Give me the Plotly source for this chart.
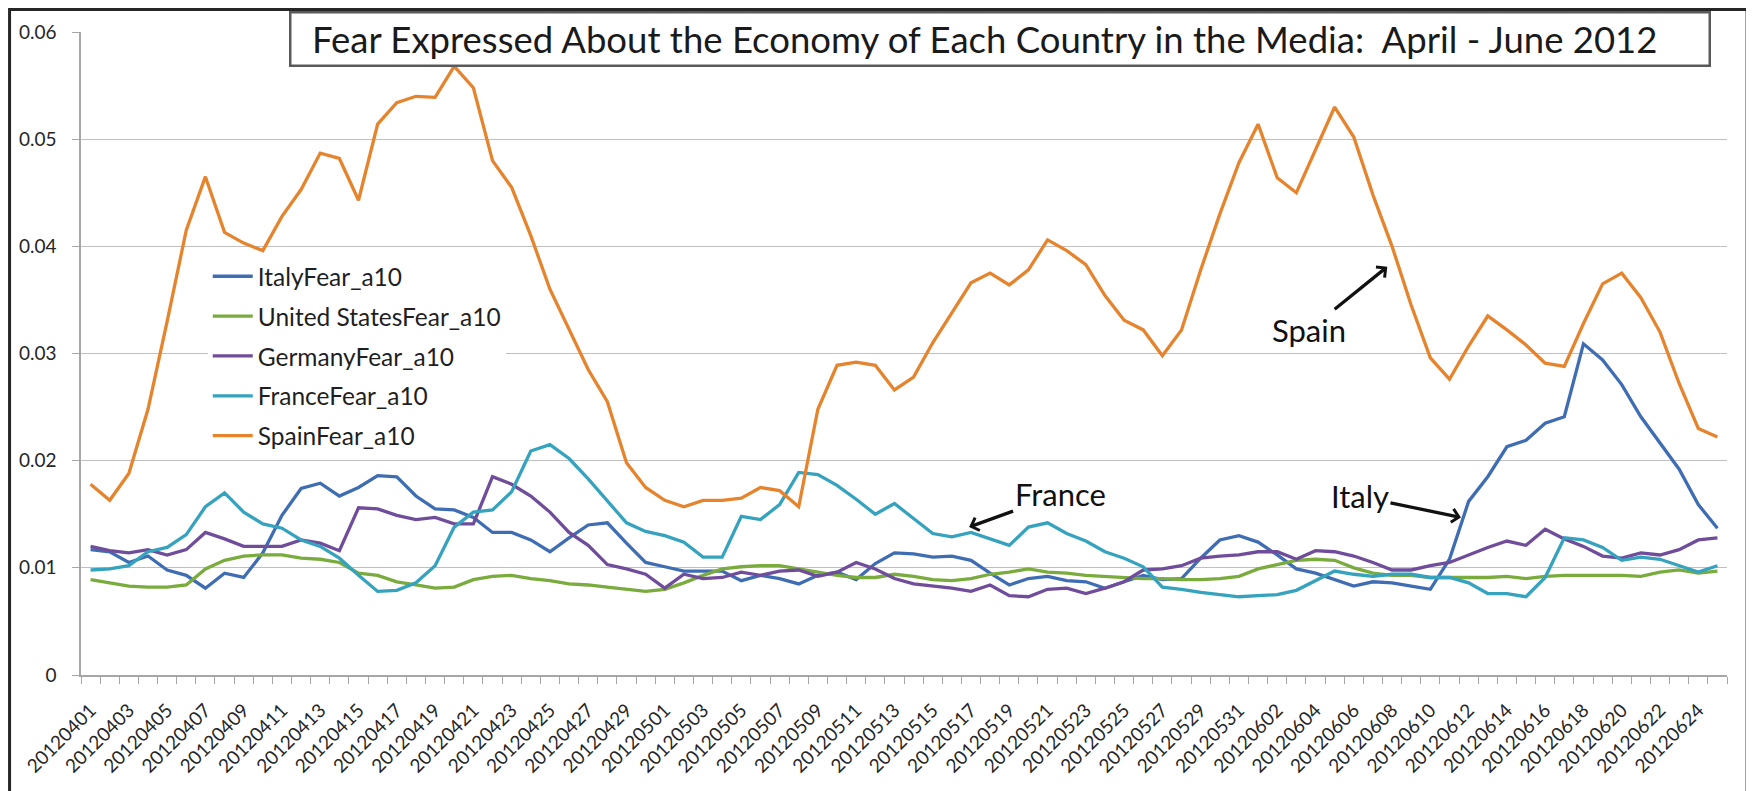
import plotly.graph_objects as go

dates = [
    "20120401", "20120402", "20120403", "20120404", "20120405", "20120406", "20120407", "20120408", "20120409", "20120410",
    "20120411", "20120412", "20120413", "20120414", "20120415", "20120416", "20120417", "20120418", "20120419", "20120420",
    "20120421", "20120422", "20120423", "20120424", "20120425", "20120426", "20120427", "20120428", "20120429", "20120430",
    "20120501", "20120502", "20120503", "20120504", "20120505", "20120506", "20120507", "20120508", "20120509", "20120510",
    "20120511", "20120512", "20120513", "20120514", "20120515", "20120516", "20120517", "20120518", "20120519", "20120520",
    "20120521", "20120522", "20120523", "20120524", "20120525", "20120526", "20120527", "20120528", "20120529", "20120530",
    "20120531", "20120601", "20120602", "20120603", "20120604", "20120605", "20120606", "20120607", "20120608", "20120609",
    "20120610", "20120611", "20120612", "20120613", "20120614", "20120615", "20120616", "20120617", "20120618", "20120619",
    "20120620", "20120621", "20120622", "20120623", "20120624", "20120625",
]

italy = [
    0.0117, 0.0115, 0.0105, 0.0111, 0.0098, 0.0093, 0.0081, 0.0095, 0.0091, 0.0114,
    0.0149, 0.0174, 0.0179, 0.0167, 0.0175, 0.0186, 0.0185, 0.0167, 0.0155, 0.0154,
    0.0147, 0.0133, 0.0133, 0.0126, 0.0115, 0.0128, 0.0140, 0.0142, 0.0123, 0.0105,
    0.0101, 0.0097, 0.0097, 0.0097, 0.0088, 0.0093, 0.0090, 0.0085, 0.0093, 0.0096,
    0.0089, 0.0104, 0.0114, 0.0113, 0.0110, 0.0111, 0.0107, 0.0095, 0.0084, 0.0090,
    0.0092, 0.0088, 0.0087, 0.0081, 0.0087, 0.0093, 0.0089, 0.0090, 0.0109, 0.0126,
    0.0130, 0.0124, 0.0112, 0.0099, 0.0095, 0.0089, 0.0083, 0.0087, 0.0086, 0.0083,
    0.0080, 0.0108, 0.0162, 0.0185, 0.0213, 0.0219, 0.0235, 0.0241, 0.0309, 0.0294,
    0.0271, 0.0241, 0.0216, 0.0192, 0.0159, 0.0137,
]

united_states = [
    0.0089, 0.0086, 0.0083, 0.0082, 0.0082, 0.0084, 0.0099, 0.0107, 0.0111, 0.0112,
    0.0112, 0.0109, 0.0108, 0.0105, 0.0095, 0.0093, 0.0087, 0.0084, 0.0081, 0.0082,
    0.0089, 0.0092, 0.0093, 0.0090, 0.0088, 0.0085, 0.0084, 0.0082, 0.0080, 0.0078,
    0.0080, 0.0086, 0.0093, 0.0099, 0.0101, 0.0102, 0.0102, 0.0099, 0.0096, 0.0093,
    0.0091, 0.0091, 0.0094, 0.0092, 0.0089, 0.0088, 0.0090, 0.0094, 0.0096, 0.0099,
    0.0096, 0.0095, 0.0093, 0.0092, 0.0091, 0.0090, 0.0090, 0.0089, 0.0089, 0.0090,
    0.0092, 0.0099, 0.0103, 0.0107, 0.0108, 0.0107, 0.0100, 0.0095, 0.0093, 0.0093,
    0.0091, 0.0091, 0.0091, 0.0091, 0.0092, 0.0090, 0.0092, 0.0093, 0.0093, 0.0093,
    0.0093, 0.0092, 0.0096, 0.0098, 0.0095, 0.0097,
]

germany = [
    0.0120, 0.0116, 0.0114, 0.0117, 0.0112, 0.0117, 0.0133, 0.0127, 0.0120, 0.0120,
    0.0120, 0.0126, 0.0123, 0.0116, 0.0156, 0.0155, 0.0149, 0.0145, 0.0147, 0.0141,
    0.0141, 0.0185, 0.0178, 0.0167, 0.0152, 0.0133, 0.0121, 0.0103, 0.0099, 0.0094,
    0.0081, 0.0094, 0.0090, 0.0091, 0.0096, 0.0093, 0.0097, 0.0098, 0.0092, 0.0096,
    0.0105, 0.0099, 0.0090, 0.0085, 0.0083, 0.0081, 0.0078, 0.0084, 0.0074, 0.0073,
    0.0080, 0.0081, 0.0076, 0.0081, 0.0087, 0.0098, 0.0099, 0.0102, 0.0109, 0.0111,
    0.0112, 0.0115, 0.0115, 0.0108, 0.0116, 0.0115, 0.0111, 0.0105, 0.0098, 0.0098,
    0.0102, 0.0105, 0.0112, 0.0119, 0.0125, 0.0121, 0.0136, 0.0127, 0.0120, 0.0111,
    0.0109, 0.0114, 0.0112, 0.0117, 0.0126, 0.0128,
]

france = [
    0.0098, 0.0099, 0.0102, 0.0115, 0.0119, 0.0131, 0.0157, 0.0170, 0.0152, 0.0141,
    0.0137, 0.0126, 0.0120, 0.0109, 0.0093, 0.0078, 0.0079, 0.0086, 0.0102, 0.0138,
    0.0152, 0.0154, 0.0171, 0.0209, 0.0215, 0.0202, 0.0183, 0.0163, 0.0142, 0.0134,
    0.0130, 0.0124, 0.0110, 0.0110, 0.0148, 0.0145, 0.0159, 0.0189, 0.0187, 0.0177,
    0.0164, 0.0150, 0.0160, 0.0146, 0.0132, 0.0129, 0.0133, 0.0127, 0.0121, 0.0138,
    0.0142, 0.0132, 0.0125, 0.0115, 0.0109, 0.0101, 0.0082, 0.0080, 0.0077, 0.0075,
    0.0073, 0.0074, 0.0075, 0.0079, 0.0088, 0.0097, 0.0094, 0.0092, 0.0094, 0.0094,
    0.0091, 0.0091, 0.0086, 0.0076, 0.0076, 0.0073, 0.0091, 0.0128, 0.0126, 0.0119,
    0.0107, 0.0110, 0.0108, 0.0102, 0.0096, 0.0102,
]

spain = [
    0.0178, 0.0163, 0.0188, 0.0248, 0.0330, 0.0415, 0.0465, 0.0413, 0.0403, 0.0396,
    0.0428, 0.0453, 0.0487, 0.0482, 0.0443, 0.0514, 0.0534, 0.0540, 0.0539, 0.0568,
    0.0548, 0.0480, 0.0455, 0.0410, 0.0360, 0.0322, 0.0285, 0.0255, 0.0198, 0.0175,
    0.0163, 0.0157, 0.0163, 0.0163, 0.0165, 0.0175, 0.0172, 0.0157, 0.0248, 0.0289,
    0.0292, 0.0289, 0.0266, 0.0278, 0.0310, 0.0338, 0.0366, 0.0375, 0.0364, 0.0378,
    0.0406, 0.0396, 0.0383, 0.0354, 0.0331, 0.0322, 0.0298, 0.0322, 0.0378, 0.0430,
    0.0478, 0.0514, 0.0464, 0.0450, 0.0490, 0.0530, 0.0502, 0.0448, 0.0400, 0.0345,
    0.0296, 0.0276, 0.0307, 0.0335, 0.0322, 0.0308, 0.0291, 0.0288, 0.0328, 0.0365,
    0.0375, 0.0352, 0.0320, 0.0272, 0.0230, 0.0222,
]

series = [
    ("ItalyFear_a10", italy, "#3F6DB3"),
    ("United StatesFear_a10", united_states, "#7AAB3D"),
    ("GermanyFear_a10", germany, "#6F4D9B"),
    ("FranceFear_a10", france, "#35A2BE"),
    ("SpainFear_a10", spain, "#E6842E"),
]

title_text = "Fear Expressed About the Economy of Each Country in the Media:  April - June 2012"
FONT = "Lato"

x_idx = list(range(len(dates)))

fig = go.Figure()
for name, vals, color in series:
    fig.add_trace(go.Scatter(x=x_idx, y=vals, mode="lines", name=name,
                             legendgroup=name,
                             line=dict(color=color, width=3.3)))

# page body has an 8px margin, so the figure is a bit smaller than the window
fig.update_layout(
    width=1746, height=783,
    margin=dict(l=73, r=27, t=24, b=116, autoexpand=False),
    paper_bgcolor="white", plot_bgcolor="white",
    font=dict(family=FONT, color="#262626"),
    showlegend=True,
    legend=dict(x=0.077, y=0.655, xanchor="left", yanchor="top",
                bgcolor="white", font=dict(size=24.5, color="#1f1f1f"),
                tracegroupgap=5, itemwidth=40),
)

fig.update_xaxes(
    range=[-0.5, len(dates) - 0.5],
    tickmode="array", tickvals=x_idx[::2], ticktext=dates[::2],
    tickangle=-45, tickfont=dict(size=19, color="#262626"),
    ticks="", showgrid=False, zeroline=False,
    showline=True, linecolor="#A6A6A6", linewidth=1.5,
    ticklabelstandoff=15,
    minor=dict(tickmode="array", tickvals=[i - 0.5 for i in range(len(dates) + 1)],
               ticks="outside", ticklen=7, tickcolor="#A6A6A6", tickwidth=1.3,
               showgrid=False),
)

fig.update_yaxes(
    range=[0, 0.06], tick0=0, dtick=0.01,
    tickfont=dict(size=19, color="#262626"),
    showgrid=True, gridcolor="#BFBFBF", gridwidth=1.3,
    zeroline=False, showline=True, linecolor="#A6A6A6", linewidth=1.5,
    ticks="outside", ticklen=7, tickcolor="#A6A6A6", tickwidth=1.3,
    ticklabelstandoff=12,
)

# chart title: bordered box, then the text on top
fig.add_annotation(
    text=" ", xref="paper", yref="paper", x=0.5583, y=0.9891,
    xanchor="center", yanchor="middle", showarrow=False,
    bgcolor="white", bordercolor="#5A5A5A", borderwidth=2.5,
    width=1415, height=49,
)
fig.add_annotation(
    text=title_text, xref="paper", yref="paper", x=0.1391, y=0.9885,
    xanchor="left", yanchor="middle", showarrow=False,
    font=dict(size=36.5, color="#1a1a1a", family=FONT),
)

# callouts
callouts = [
    ("Spain", 67.75, 0.0381, -78, 63),
    ("France", 45.9, 0.0138, 91, -33),
    ("Italy", 71.6, 0.0147, -101, -21),
]
for label, xh, yh, ax, ay in callouts:
    fig.add_annotation(
        text=label, x=xh, y=yh, xref="x", yref="y", ax=ax, ay=ay,
        showarrow=True, arrowhead=4, arrowsize=0.8, arrowwidth=3.3,
        arrowcolor="#111111", font=dict(size=31, color="#111111", family=FONT),
    )

# outer chart border
fig.add_shape(type="rect", xref="paper", yref="paper",
              x0=-0.0434, x1=1.0122, y0=-0.3, y1=1.035,
              line=dict(color="#262626", width=3), layer="below")

fig.write_html("out.html")
